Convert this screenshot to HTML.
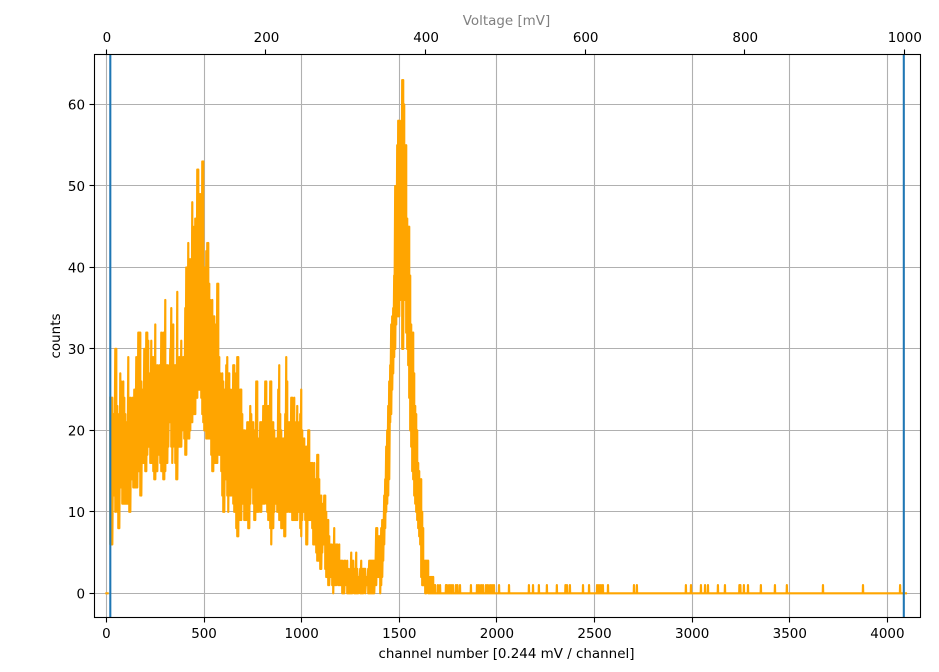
<!DOCTYPE html>
<html lang="en">
<head>
<meta charset="utf-8">
<title>Channel histogram</title>
<style>
html,body{margin:0;padding:0;background:#fff;width:939px;height:672px;overflow:hidden}
svg{display:block}
text{font-family:"DejaVu Sans","Liberation Sans",sans-serif;font-size:13.45px;fill:#000}
</style>
</head>
<body>
<svg id="chart" xmlns="http://www.w3.org/2000/svg" width="939" height="672" viewBox="0 0 939 672"></svg>
<script>
const channelTicks = [0, 500, 1000, 1500, 2000, 2500, 3000, 3500, 4000];
const countTicks = [0, 10, 20, 30, 40, 50, 60];
const voltageTicks = [0, 200, 400, 600, 800, 1000];
const markerChannels = [20, 4084];
const leadingChannels = [0, 6];
const leadingCounts = [0, 0];
const firstDenseChannel = 20;
const denseChannelStep = 2.56;
const denseCounts = [
24,6,24,6,24,6,22,12,20,12,30,10,30,12,23,10,21,8,22,8,
27,13,26,13,21,11,26,11,24,11,22,11,21,11,20,11,29,11,22,10,
24,10,23,14,24,14,22,13,25,13,24,13,29,13,24,13,32,15,32,15,
32,12,26,12,25,16,24,16,30,16,26,15,32,15,32,17,31,18,27,18,
26,16,31,16,29,16,29,15,26,14,33,14,27,15,28,15,27,17,28,17,
26,16,32,15,30,15,32,14,28,14,36,15,28,16,28,16,27,18,28,21,
30,21,35,18,28,16,33,18,28,19,28,16,27,14,37,14,28,18,29,18,
28,18,31,18,28,20,29,21,29,19,35,17,40,17,38,19,43,19,41,19,
41,20,40,21,48,21,44,22,45,22,46,22,43,24,52,24,52,25,49,25,
49,25,48,24,53,22,53,21,40,20,40,20,42,19,43,19,43,19,38,19,
36,19,33,17,36,15,34,15,34,16,33,16,33,16,38,16,38,17,29,17,
27,17,26,15,27,12,26,10,25,10,25,14,28,14,29,12,27,10,27,13,
25,12,24,12,25,14,28,11,28,10,26,10,27,8,29,7,29,7,24,9,
25,9,25,9,22,11,20,11,20,9,19,9,20,9,21,11,21,8,20,8,
23,11,22,13,21,13,21,11,20,9,20,9,26,10,26,10,19,10,19,12,
21,10,21,10,21,11,23,11,22,11,26,12,26,11,22,10,23,9,22,9,
26,8,26,6,21,8,21,8,20,10,18,11,19,11,18,10,25,10,28,9,
22,9,20,8,19,8,19,9,19,7,22,7,29,10,26,10,21,12,21,10,
20,10,24,10,24,9,22,9,24,9,20,9,21,9,23,9,21,10,19,10,
22,8,25,7,20,9,19,10,19,10,17,9,18,6,17,6,20,9,20,9,
16,9,16,9,16,8,15,6,16,6,14,6,14,5,17,4,17,4,14,4,
12,3,12,3,11,5,10,6,12,6,12,3,10,2,9,2,9,1,7,1,
6,2,6,2,5,1,6,0,8,1,6,1,6,1,6,2,5,1,6,1,
4,1,4,1,4,0,3,0,4,0,4,1,3,1,4,0,3,0,2,0,
3,0,5,0,4,0,4,1,3,0,2,0,5,0,3,0,2,0,2,1,
3,0,4,0,3,0,3,0,3,1,3,0,2,1,2,1,3,0,4,0,
4,0,4,0,4,0,4,0,4,0,4,1,8,1,8,2,7,2,7,2,
7,0,8,1,9,2,9,4,12,6,14,8,18,10,20,11,23,12,26,14,
28,21,33,22,34,25,35,27,39,29,50,30,45,33,55,34,58,34,58,34,
50,36,58,38,63,30,63,30,60,38,55,36,55,32,46,30,45,28,45,24,
39,20,33,18,32,15,32,14,27,12,23,11,22,10,20,9,16,8,15,7,
14,6,14,2,10,1,8,1,4,1,4,0,4,0,4,1,4,0,2,0,
2,0,2,0,2,0,2,0,1,0,1,0
];
const singleCountChannels = [
1698,1709,1739,1744,1755,1765,1775,1790,1798,1811,1867,1898,1908,1919,1929,
1944,1954,1965,1975,1985,2011,2062,2164,2185,2215,2256,2307,2351,2359,2374,
2441,2472,2513,2523,2533,2543,2569,2702,2717,2968,2994,3045,3066,3081,3132,
3168,3242,3247,3265,3286,3352,3424,3485,3670,3875,4065
];
const lastChannel = 4095;
const mvPerChannel = 0.2447;

const NS = 'http://www.w3.org/2000/svg';
const svg = document.getElementById('chart');
const L = 94.5, R = 920.5, T = 54.5, B = 617.5;
const xScale = ch => 106.4 + ch * 0.19525;
const yScale = c => 593.3 - c * 8.147;
const voltageScale = mv => xScale(mv / mvPerChannel);
const snap = v => Math.round(v - 0.5) + 0.5;

function make(tag, attrs, parent) {
  const el = document.createElementNS(NS, tag);
  for (const k in attrs) el.setAttribute(k, attrs[k]);
  (parent || svg).appendChild(el);
  return el;
}

const bg = make('rect', {x: L, y: T, width: R - L, height: B - T, fill: '#fff'});



channelTicks.forEach(t => {
  const p = snap(xScale(t));
  const g = make('line', {x1: p, x2: p, y1: T, y2: B, stroke: '#b0b0b0', 'stroke-width': 1.1});
  
  
});
countTicks.forEach(t => {
  const p = snap(yScale(t));
  const g = make('line', {x1: L, x2: R, y1: p, y2: p, stroke: '#b0b0b0', 'stroke-width': 1.1});
  
  
});

const pts = [];
denseCounts.forEach((c, i) => pts.push([firstDenseChannel + Math.floor(i / 2) * 2 * denseChannelStep, c]));
let cursor = pts[pts.length - 1][0];
singleCountChannels.forEach(ch => {
  if (ch - 1 > cursor) pts.push([ch - 1, 0]);
  pts.push([ch, 1]);
  pts.push([ch + 1, 0]);
  cursor = ch + 1;
});
pts.push([lastChannel, 0]);

const toPath = list => list.map((p, i) => (i ? 'L' : 'M') + xScale(p[0]).toFixed(2) + ' ' + yScale(p[1]).toFixed(2)).join('');
const leadPts = leadingChannels.map((c, i) => [c, leadingCounts[i]]);
const series = make('path', {d: toPath(leadPts) + toPath(pts), fill: 'none', stroke: '#ffa500', 'stroke-width': 2.2, 'stroke-linejoin': 'round', 'stroke-linecap': 'square'});



markerChannels.forEach(ch => {
  const p = xScale(ch);
  const m = make('line', {x1: p, x2: p, y1: T, y2: B, stroke: '#1f77b4', 'stroke-width': 2.08});
  
  
});

const frame = make('rect', {x: L, y: T, width: R - L, height: B - T, fill: 'none', stroke: '#000', 'stroke-width': 1.1});



channelTicks.forEach(t => {
  const p = snap(xScale(t));
  const m = make('line', {x1: p, x2: p, y1: B, y2: B + 5, stroke: '#000', 'stroke-width': 1.1});
  
  
  const l = make('text', {x: xScale(t), y: 638, 'text-anchor': 'middle'});
  
  
  l.textContent = t;
});
countTicks.forEach(t => {
  const p = snap(yScale(t));
  const m = make('line', {x1: L - 5, x2: L, y1: p, y2: p, stroke: '#000', 'stroke-width': 1.1});
  
  
  const l = make('text', {x: 85, y: yScale(t) + 5, 'text-anchor': 'end'});
  
  
  l.textContent = t;
});
voltageTicks.forEach(t => {
  const p = snap(voltageScale(t));
  const m = make('line', {x1: p, x2: p, y1: T - 5, y2: T, stroke: '#000', 'stroke-width': 1.1});
  
  
  const l = make('text', {x: voltageScale(t) + 0.5, y: 42, 'text-anchor': 'middle'});
  
  
  l.textContent = t;
});

const xTitle = make('text', {x: 506.5, y: 658, 'text-anchor': 'middle'});


xTitle.textContent = 'channel number [0.244 mV / channel]';

const yTitle = make('text', {x: 0, y: 0, 'text-anchor': 'middle', transform: 'translate(60 336) rotate(-90)'});


yTitle.textContent = 'counts';

const topTitle = make('text', {x: 506.5, y: 25, 'text-anchor': 'middle', style: 'fill:#808080'});


topTitle.textContent = 'Voltage [mV]';
</script>
</body>
</html>
